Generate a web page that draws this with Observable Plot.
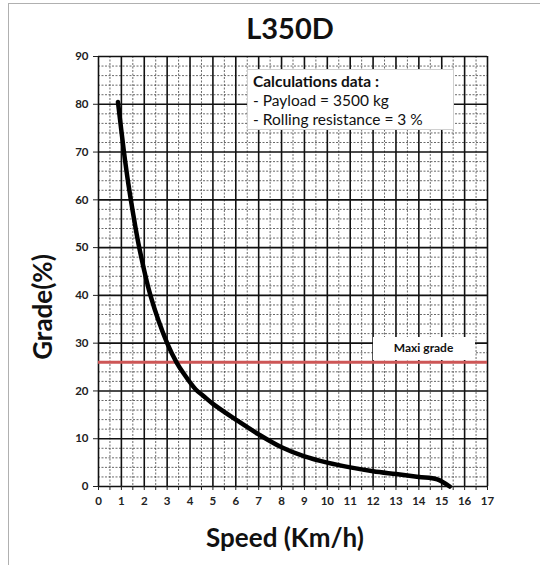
<!DOCTYPE html>
<html><head><meta charset="utf-8">
<script src="https://cdn.jsdelivr.net/npm/d3@7"></script>
<script src="https://cdn.jsdelivr.net/npm/@observablehq/plot@0.6"></script>
<style>
body{margin:0;background:#fff;font-family:Lato,"Open Sans",sans-serif;}
#wrap{position:relative;width:540px;height:565px;overflow:hidden;background:#fff;}
#frame{position:absolute;left:8px;top:3px;width:560px;height:600px;border-left:1.5px solid #b0b0b0;border-top:1.5px solid #b0b0b0;}
#title{position:absolute;top:10px;left:40px;width:500px;text-align:center;font-weight:bold;font-size:29px;color:#111;line-height:36px;}
#chart{position:absolute;top:45px;left:0;z-index:1;}
#ylab{position:absolute;left:42px;top:307px;transform:translate(-50%,-50%) rotate(-90deg);font-weight:bold;font-size:26px;color:#111;white-space:nowrap;}
#xlab{position:absolute;left:285px;top:537px;transform:translate(-50%,-50%);font-weight:bold;font-size:26px;color:#111;white-space:nowrap;}
.box{position:absolute;z-index:5;background:#fff;border:1px solid #d0d0d0;color:#111;white-space:nowrap;}
#calc{left:247px;top:69px;width:207px;height:61px;font-size:15.5px;line-height:19px;padding:2px 0 0 5px;box-sizing:border-box;}
#maxi{font-weight:bold;font-size:12px;text-align:center;line-height:22px;width:102px;height:23px;border:none;}
</style></head>
<body><div id="wrap"><div id="frame"></div><div id="title">L350D</div><div id="chart"></div>
<div id="ylab">Grade(%)</div><div id="xlab">Speed (Km/h)</div></div>
<script>
const title = "L350D";
const speed = [0.85, 1.1, 1.3, 1.5, 1.76, 2.27, 3.0, 3.41, 3.7, 4.25, 4.6, 5, 6, 7, 8, 9, 10, 11, 12, 13, 14, 14.8, 15.35];
const grade = [80.5, 70.5, 63.5, 57.5, 50.5, 40, 30, 26, 23.8, 20.3, 18.9, 17.3, 14.0, 10.9, 8.2, 6.3, 5.0, 4.0, 3.2, 2.6, 2.0, 1.5, 0];
const maxGrade = 26;
const maxLabel = "Maxi grade";
const calcLines = ["Calculations data :", "- Payload = 3500 kg", "- Rolling resistance = 3 %"];
const xMajor = d3.range(0, 18, 1);
const xMinor = d3.range(0.5, 17, 1);
const yMajor = d3.range(0, 100, 10);
const yMinor = d3.range(2, 90, 2).filter(v => v % 10 !== 0);
const data = speed.map((s, i) => ({speed: s, grade: grade[i]}));

const plot = Plot.plot({
  width: 540, height: 520,
  marginTop: 11, marginBottom: 79, marginLeft: 98, marginRight: 53,
  x: {domain: [0, 17]},
  y: {domain: [0, 90]},
  style: {fontFamily: "Lato, 'Open Sans', sans-serif", fontWeight: "bold", fontSize: "11.5px", color: "#222", background: "transparent"},
  marks: [
    Plot.ruleX(xMinor, {stroke: "#444", strokeWidth: 0.8, strokeDasharray: "2,1.5"}),
    Plot.ruleY(yMinor, {stroke: "#444", strokeWidth: 0.8, strokeDasharray: "2,1.5"}),
    Plot.ruleX(xMajor, {stroke: "#111", strokeWidth: 1.6}),
    Plot.ruleY(yMajor, {stroke: "#111", strokeWidth: 1.6}),
    Plot.ruleY([maxGrade], {stroke: "#cd5656", strokeWidth: 3}),
    Plot.line(data, {x: "speed", y: "grade", stroke: "#000", strokeWidth: 4.5, curve: "catmull-rom", strokeLinecap: "round"}),
    Plot.axisX({ticks: d3.range(0, 17.5, 0.5), tickFormat: d => d % 1 === 0 ? d : "", tickSize: 4, tickPadding: 6, label: null}),
    Plot.axisY({ticks: yMajor, tickSize: 5, tickPadding: 5, label: null})
  ]
});
document.getElementById("chart").appendChild(plot);

const sx = plot.scale("x"), sy = plot.scale("y");
const wrap = document.getElementById("wrap");
const calc = document.createElement("div");
calc.className = "box"; calc.id = "calc";
calc.innerHTML = calcLines.map((t, i) => i === 0 ? `<b>${t}</b>` : t).join("<br>");
wrap.appendChild(calc);
const maxi = document.createElement("div");
maxi.className = "box"; maxi.id = "maxi"; maxi.textContent = maxLabel;
maxi.style.left = (sx.apply(12.0)) + "px";
maxi.style.top = (45 + sy.apply(maxGrade) - 25) + "px";
wrap.appendChild(maxi);
</script></body></html>
